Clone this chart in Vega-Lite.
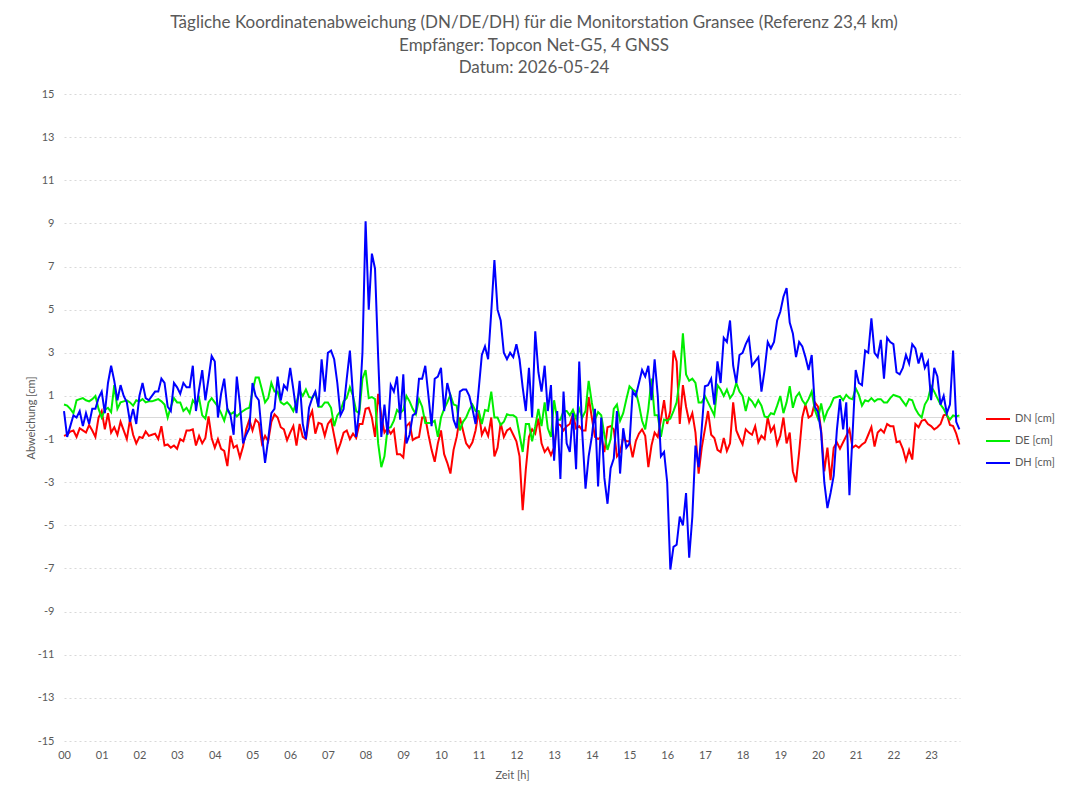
{
"$schema": "https://vega.github.io/schema/vega-lite/v6.json",
"width": 896, "height": 647,
"autosize": {"type": "none"},
"padding": {"left": 64, "top": 94, "right": 108, "bottom": 60},
"background": "white",
"config": {"view": {"stroke": null}, "font": "Lato"},
"title": {"text": ["Tägliche Koordinatenabweichung (DN/DE/DH) für die Monitorstation Gransee (Referenz 23,4 km)", "Empfänger: Topcon Net-G5, 4 GNSS", "Datum: 2026-05-24"], "anchor": "middle", "frame": "group", "dx": 22, "offset": 11, "fontSize": 17, "font": "Lato", "fontWeight": "normal", "color": "#595959", "lineHeight": 22.5},
"layer": [
{"data": {"values": [{}]}, "mark": {"type": "rule", "color": "#d9d9d9", "strokeWidth": 1}, "encoding": {"y": {"datum": 0, "type": "quantitative"}}},
{"data": {"values": [
{"m":0,"DN":-0.85,"DE":0.6,"DH":0.3},{"m":5,"DN":-0.8,"DE":0.55,"DH":-0.9},{"m":10,"DN":-0.65,"DE":0.4,"DH":-0.4},{"m":15,"DN":-0.6,"DE":0.2,"DH":0.1},{"m":20,"DN":-0.9,"DE":0.8,"DH":0.0},{"m":25,"DN":-0.5,"DE":0.85,"DH":0.3},{"m":30,"DN":-0.6,"DE":0.9,"DH":-0.4},{"m":35,"DN":-0.7,"DE":0.8,"DH":0.2},{"m":40,"DN":-0.35,"DE":0.75,"DH":-0.3},{"m":45,"DN":-0.6,"DE":0.85,"DH":0.4},
{"m":50,"DN":-0.9,"DE":1.0,"DH":0.4},{"m":55,"DN":0.0,"DE":0.4,"DH":0.9},{"m":60,"DN":0.3,"DE":0.0,"DH":1.2},{"m":65,"DN":-0.55,"DE":0.35,"DH":0.2},{"m":70,"DN":0.2,"DE":0.45,"DH":1.6},{"m":75,"DN":-0.7,"DE":0.25,"DH":2.4},{"m":80,"DN":-0.45,"DE":1.5,"DH":1.7},{"m":85,"DN":-0.8,"DE":0.4,"DH":0.8},{"m":90,"DN":-0.2,"DE":0.7,"DH":1.5},{"m":95,"DN":-0.6,"DE":0.75,"DH":1.0},
{"m":100,"DN":-1.0,"DE":0.8,"DH":0.7},{"m":105,"DN":-0.1,"DE":0.7,"DH":-0.2},{"m":110,"DN":-0.8,"DE":0.55,"DH":0.4},{"m":115,"DN":-1.2,"DE":0.8,"DH":-0.3},{"m":120,"DN":-0.9,"DE":0.75,"DH":1.0},{"m":125,"DN":-0.95,"DE":0.85,"DH":1.6},{"m":130,"DN":-0.65,"DE":0.7,"DH":0.9},{"m":135,"DN":-0.85,"DE":0.75,"DH":0.8},{"m":140,"DN":-0.8,"DE":0.75,"DH":1.0},{"m":145,"DN":-0.75,"DE":0.8,"DH":1.2},
{"m":150,"DN":-1.0,"DE":0.85,"DH":1.2},{"m":155,"DN":-0.4,"DE":0.75,"DH":1.8},{"m":160,"DN":-1.3,"DE":0.6,"DH":1.6},{"m":165,"DN":-1.25,"DE":0.0,"DH":0.5},{"m":170,"DN":-1.4,"DE":0.5,"DH":0.3},{"m":175,"DN":-1.3,"DE":0.9,"DH":1.6},{"m":180,"DN":-1.45,"DE":0.7,"DH":1.4},{"m":185,"DN":-1.0,"DE":0.7,"DH":1.1},{"m":190,"DN":-1.1,"DE":0.3,"DH":1.6},{"m":195,"DN":-0.6,"DE":0.45,"DH":1.4},
{"m":200,"DN":-0.6,"DE":0.2,"DH":1.4},{"m":205,"DN":-0.55,"DE":0.8,"DH":2.4},{"m":210,"DN":-1.3,"DE":0.6,"DH":0.3},{"m":215,"DN":-0.85,"DE":0.9,"DH":1.3},{"m":220,"DN":-1.2,"DE":0.1,"DH":2.2},{"m":225,"DN":-0.95,"DE":-0.05,"DH":0.8},{"m":230,"DN":0.05,"DE":0.7,"DH":1.8},{"m":235,"DN":-0.95,"DE":0.9,"DH":2.85},{"m":240,"DN":-1.4,"DE":0.7,"DH":2.6},{"m":245,"DN":-1.0,"DE":0.5,"DH":0.0},
{"m":250,"DN":-1.45,"DE":0.2,"DH":1.1},{"m":255,"DN":-1.55,"DE":-0.15,"DH":1.8},{"m":260,"DN":-2.25,"DE":0.4,"DH":0.4},{"m":265,"DN":-0.85,"DE":0.15,"DH":0.1},{"m":270,"DN":-1.4,"DE":0.25,"DH":-0.8},{"m":275,"DN":-1.3,"DE":0.05,"DH":1.9},{"m":280,"DN":-1.85,"DE":0.2,"DH":0.6},{"m":285,"DN":-1.35,"DE":0.3,"DH":-1.2},{"m":290,"DN":-0.55,"DE":0.4,"DH":-0.8},{"m":295,"DN":-0.1,"DE":0.45,"DH":-0.5},
{"m":300,"DN":-0.6,"DE":1.2,"DH":1.6},{"m":305,"DN":-0.1,"DE":1.85,"DH":1.0},{"m":310,"DN":-0.25,"DE":1.85,"DH":0.8},{"m":315,"DN":-1.2,"DE":1.3,"DH":-0.8},{"m":320,"DN":-0.85,"DE":0.7,"DH":-2.1},{"m":325,"DN":-1.1,"DE":0.9,"DH":-1.0},{"m":330,"DN":-0.2,"DE":1.6,"DH":0.2},{"m":335,"DN":0.15,"DE":1.2,"DH":0.4},{"m":340,"DN":0.0,"DE":1.2,"DH":1.9},{"m":345,"DN":-0.45,"DE":0.7,"DH":0.8},
{"m":350,"DN":-0.55,"DE":0.6,"DH":1.5},{"m":355,"DN":-1.05,"DE":0.7,"DH":1.3},{"m":360,"DN":-0.7,"DE":0.55,"DH":2.3},{"m":365,"DN":-0.4,"DE":0.3,"DH":1.3},{"m":370,"DN":-1.3,"DE":0.7,"DH":0.2},{"m":375,"DN":-0.3,"DE":1.25,"DH":1.7},{"m":380,"DN":-0.9,"DE":1.0,"DH":-0.3},{"m":385,"DN":-1.0,"DE":1.3,"DH":-1.0},{"m":390,"DN":-0.05,"DE":0.95,"DH":0.45},{"m":395,"DN":0.3,"DE":0.9,"DH":0.9},
{"m":400,"DN":-0.75,"DE":1.15,"DH":1.2},{"m":405,"DN":-0.25,"DE":0.5,"DH":0.5},{"m":410,"DN":-0.3,"DE":0.5,"DH":2.7},{"m":415,"DN":-0.85,"DE":0.7,"DH":1.2},{"m":420,"DN":-0.3,"DE":0.7,"DH":3.0},{"m":425,"DN":-0.1,"DE":0.45,"DH":3.1},{"m":430,"DN":-0.85,"DE":-0.4,"DH":2.7},{"m":435,"DN":-1.6,"DE":0.1,"DH":1.6},{"m":440,"DN":-1.2,"DE":0.3,"DH":0.1},{"m":445,"DN":-0.7,"DE":0.75,"DH":0.4},
{"m":450,"DN":-0.6,"DE":0.9,"DH":1.8},{"m":455,"DN":-1.0,"DE":1.4,"DH":3.1},{"m":460,"DN":-0.75,"DE":1.0,"DH":1.0},{"m":465,"DN":-0.95,"DE":0.3,"DH":-0.9},{"m":470,"DN":-0.3,"DE":0.2,"DH":0.4},{"m":475,"DN":-0.3,"DE":1.8,"DH":3.0},{"m":480,"DN":0.4,"DE":2.2,"DH":9.1},{"m":485,"DN":0.45,"DE":0.9,"DH":5.0},{"m":490,"DN":0.0,"DE":0.95,"DH":7.6},{"m":495,"DN":-0.9,"DE":0.85,"DH":6.9},
{"m":500,"DN":1.1,"DE":-1.2,"DH":2.8},{"m":505,"DN":0.1,"DE":-2.3,"DH":-0.9},{"m":510,"DN":-0.7,"DE":-1.8,"DH":0.6},{"m":515,"DN":-0.5,"DE":-0.5,"DH":-0.8},{"m":520,"DN":-0.75,"DE":-0.45,"DH":1.5},{"m":525,"DN":-0.55,"DE":-0.15,"DH":1.2},{"m":530,"DN":-1.7,"DE":0.35,"DH":1.9},{"m":535,"DN":-1.7,"DE":0.2,"DH":-0.1},{"m":540,"DN":-1.85,"DE":0.35,"DH":2.0},{"m":545,"DN":-0.4,"DE":1.0,"DH":-1.2},
{"m":550,"DN":-0.25,"DE":0.75,"DH":-0.8},{"m":555,"DN":-1.05,"DE":0.4,"DH":0.1},{"m":560,"DN":-0.95,"DE":0.15,"DH":0.2},{"m":565,"DN":-0.9,"DE":0.85,"DH":1.8},{"m":570,"DN":0.0,"DE":0.5,"DH":1.8},{"m":575,"DN":0.0,"DE":-0.25,"DH":2.4},{"m":580,"DN":-0.8,"DE":-0.25,"DH":1.0},{"m":585,"DN":-1.5,"DE":-0.25,"DH":-0.4},{"m":590,"DN":-2.05,"DE":-0.15,"DH":1.8},{"m":595,"DN":-1.2,"DE":-0.9,"DH":1.9},
{"m":600,"DN":-0.6,"DE":0.0,"DH":2.3},{"m":605,"DN":-1.7,"DE":0.4,"DH":0.3},{"m":610,"DN":-2.1,"DE":0.7,"DH":1.6},{"m":615,"DN":-2.6,"DE":1.05,"DH":1.0},{"m":620,"DN":-1.5,"DE":0.6,"DH":-0.1},{"m":625,"DN":-0.9,"DE":0.55,"DH":-0.5},{"m":630,"DN":0.0,"DE":-0.6,"DH":1.2},{"m":635,"DN":-0.6,"DE":-0.2,"DH":1.3},{"m":640,"DN":-1.2,"DE":0.0,"DH":1.3},{"m":645,"DN":-1.4,"DE":0.35,"DH":1.0},
{"m":650,"DN":-1.15,"DE":0.6,"DH":0.4},{"m":655,"DN":-0.6,"DE":0.3,"DH":-0.3},{"m":660,"DN":0.3,"DE":0.3,"DH":1.3},{"m":665,"DN":-0.8,"DE":-0.3,"DH":2.9},{"m":670,"DN":-0.5,"DE":0.35,"DH":3.3},{"m":675,"DN":-0.85,"DE":0.3,"DH":2.7},{"m":680,"DN":0.0,"DE":1.2,"DH":4.9},{"m":685,"DN":-1.8,"DE":0.0,"DH":7.3},{"m":690,"DN":-1.4,"DE":0.0,"DH":5.0},{"m":695,"DN":-0.25,"DE":-0.35,"DH":4.5},
{"m":700,"DN":-0.9,"DE":-0.2,"DH":3.0},{"m":705,"DN":-0.6,"DE":0.15,"DH":2.7},{"m":710,"DN":-0.5,"DE":0.1,"DH":3.0},{"m":715,"DN":-0.8,"DE":0.1,"DH":2.8},{"m":720,"DN":-1.1,"DE":0.0,"DH":3.4},{"m":725,"DN":-1.8,"DE":-0.8,"DH":2.7},{"m":730,"DN":-4.3,"DE":-1.6,"DH":1.4},{"m":735,"DN":-2.4,"DE":-0.3,"DH":0.3},{"m":740,"DN":-0.9,"DE":-0.3,"DH":2.3},{"m":745,"DN":-0.55,"DE":-1.1,"DH":0.0},
{"m":750,"DN":-0.75,"DE":-0.4,"DH":4.0},{"m":755,"DN":-0.05,"DE":0.4,"DH":2.1},{"m":760,"DN":-1.2,"DE":-0.4,"DH":1.2},{"m":765,"DN":-1.6,"DE":0.7,"DH":2.4},{"m":770,"DN":-1.4,"DE":-0.5,"DH":0.3},{"m":775,"DN":-1.75,"DE":-0.9,"DH":1.5},{"m":780,"DN":-1.4,"DE":0.8,"DH":-2.0},{"m":785,"DN":-0.3,"DE":-0.1,"DH":0.3},{"m":790,"DN":-0.35,"DE":-0.1,"DH":-2.85},{"m":795,"DN":-0.6,"DE":0.3,"DH":1.2},
{"m":800,"DN":-0.4,"DE":0.3,"DH":-1.2},{"m":805,"DN":-0.3,"DE":0.1,"DH":-1.6},{"m":810,"DN":0.15,"DE":0.35,"DH":0.2},{"m":815,"DN":-0.5,"DE":-0.05,"DH":-2.4},{"m":820,"DN":-0.4,"DE":0.4,"DH":2.6},{"m":825,"DN":-0.6,"DE":0.0,"DH":-0.8},{"m":830,"DN":-0.6,"DE":0.3,"DH":-3.3},{"m":835,"DN":0.95,"DE":1.7,"DH":-1.8},{"m":840,"DN":0.0,"DE":0.7,"DH":-0.9},{"m":845,"DN":-0.9,"DE":-0.1,"DH":0.4},
{"m":850,"DN":-1.0,"DE":0.25,"DH":-3.2},{"m":855,"DN":-0.9,"DE":0.1,"DH":0.0},{"m":860,"DN":-1.6,"DE":-0.8,"DH":-2.8},{"m":865,"DN":-0.45,"DE":-1.5,"DH":-4.0},{"m":870,"DN":-0.4,"DE":-1.0,"DH":-2.35},{"m":875,"DN":-0.55,"DE":0.4,"DH":-1.9},{"m":880,"DN":-1.8,"DE":0.6,"DH":0.3},{"m":885,"DN":-1.6,"DE":-0.15,"DH":-2.6},{"m":890,"DN":-0.95,"DE":0.2,"DH":-0.5},{"m":895,"DN":-1.1,"DE":0.85,"DH":-1.4},
{"m":900,"DN":-1.1,"DE":1.45,"DH":-1.2},{"m":905,"DN":-1.85,"DE":1.3,"DH":1.2},{"m":910,"DN":-1.1,"DE":1.2,"DH":1.0},{"m":915,"DN":-0.75,"DE":0.6,"DH":1.6},{"m":920,"DN":-0.55,"DE":-0.15,"DH":2.2},{"m":925,"DN":-0.85,"DE":-0.55,"DH":1.9},{"m":930,"DN":-2.3,"DE":0.4,"DH":2.4},{"m":935,"DN":-1.3,"DE":1.8,"DH":0.8},{"m":940,"DN":-0.7,"DE":0.1,"DH":2.7},{"m":945,"DN":-0.9,"DE":0.1,"DH":1.0},
{"m":950,"DN":-0.1,"DE":-0.9,"DH":-1.8},{"m":955,"DN":0.8,"DE":-0.1,"DH":-1.6},{"m":960,"DN":-0.3,"DE":-0.15,"DH":-3.0},{"m":965,"DN":0.3,"DE":-0.05,"DH":-7.05},{"m":970,"DN":3.1,"DE":0.3,"DH":-6.0},{"m":975,"DN":2.6,"DE":0.7,"DH":-5.9},{"m":980,"DN":-0.3,"DE":1.8,"DH":-4.6},{"m":985,"DN":1.5,"DE":3.9,"DH":-5.0},{"m":990,"DN":0.5,"DE":2.0,"DH":-3.5},{"m":995,"DN":-0.2,"DE":1.7,"DH":-6.5},
{"m":1000,"DN":0.2,"DE":1.8,"DH":-4.6},{"m":1005,"DN":-0.7,"DE":1.6,"DH":-1.3},{"m":1010,"DN":-2.6,"DE":0.7,"DH":-2.3},{"m":1015,"DN":-1.4,"DE":0.7,"DH":-0.5},{"m":1020,"DN":-0.55,"DE":1.0,"DH":1.45},{"m":1025,"DN":0.3,"DE":0.7,"DH":1.5},{"m":1030,"DN":-0.8,"DE":0.4,"DH":1.8},{"m":1035,"DN":-0.95,"DE":0.1,"DH":0.6},{"m":1040,"DN":-1.5,"DE":1.5,"DH":2.6},{"m":1045,"DN":-1.6,"DE":1.3,"DH":1.6},
{"m":1050,"DN":-0.95,"DE":1.0,"DH":3.7},{"m":1055,"DN":-1.55,"DE":1.3,"DH":3.5},{"m":1060,"DN":-1.2,"DE":0.9,"DH":4.5},{"m":1065,"DN":0.7,"DE":1.1,"DH":2.4},{"m":1070,"DN":-0.6,"DE":1.6,"DH":1.6},{"m":1075,"DN":-0.95,"DE":1.2,"DH":2.9},{"m":1080,"DN":-1.25,"DE":1.0,"DH":3.0},{"m":1085,"DN":-0.55,"DE":0.3,"DH":3.4},{"m":1090,"DN":-0.7,"DE":0.9,"DH":3.7},{"m":1095,"DN":-0.8,"DE":0.75,"DH":2.4},
{"m":1100,"DN":-0.4,"DE":0.5,"DH":2.6},{"m":1105,"DN":-1.15,"DE":0.8,"DH":2.8},{"m":1110,"DN":-0.85,"DE":0.55,"DH":1.2},{"m":1115,"DN":-1.0,"DE":0.05,"DH":2.2},{"m":1120,"DN":0.0,"DE":0.0,"DH":3.5},{"m":1125,"DN":-0.65,"DE":0.2,"DH":3.2},{"m":1130,"DN":-0.4,"DE":0.15,"DH":3.5},{"m":1135,"DN":-1.25,"DE":0.55,"DH":4.5},{"m":1140,"DN":-0.85,"DE":1.0,"DH":4.9},{"m":1145,"DN":0.0,"DE":0.2,"DH":5.6},
{"m":1150,"DN":-1.2,"DE":0.7,"DH":6.0},{"m":1155,"DN":-0.7,"DE":1.45,"DH":4.4},{"m":1160,"DN":-2.5,"DE":0.45,"DH":3.9},{"m":1165,"DN":-3.0,"DE":0.95,"DH":2.8},{"m":1170,"DN":-1.6,"DE":1.15,"DH":3.5},{"m":1175,"DN":0.0,"DE":0.8,"DH":3.3},{"m":1180,"DN":0.6,"DE":0.6,"DH":2.8},{"m":1185,"DN":0.0,"DE":0.85,"DH":2.2},{"m":1190,"DN":0.1,"DE":1.2,"DH":2.9},{"m":1195,"DN":0.7,"DE":0.35,"DH":0.5},
{"m":1200,"DN":0.5,"DE":-0.05,"DH":0.25},{"m":1205,"DN":-0.6,"DE":0.65,"DH":-0.7},{"m":1210,"DN":-2.5,"DE":-0.1,"DH":-3.0},{"m":1215,"DN":-1.4,"DE":0.3,"DH":-4.2},{"m":1220,"DN":-2.9,"DE":0.55,"DH":-3.5},{"m":1225,"DN":-1.4,"DE":0.9,"DH":-2.7},{"m":1230,"DN":-1.15,"DE":0.95,"DH":-0.6},{"m":1235,"DN":-1.45,"DE":1.0,"DH":0.85},{"m":1240,"DN":-1.15,"DE":0.8,"DH":-0.55},{"m":1245,"DN":-0.85,"DE":1.05,"DH":0.7},
{"m":1250,"DN":-0.55,"DE":0.9,"DH":-3.6},{"m":1255,"DN":-1.4,"DE":0.85,"DH":-0.8},{"m":1260,"DN":-1.3,"DE":1.35,"DH":2.2},{"m":1265,"DN":-1.4,"DE":1.05,"DH":1.6},{"m":1270,"DN":-1.25,"DE":0.55,"DH":1.5},{"m":1275,"DN":-1.15,"DE":0.8,"DH":3.1},{"m":1280,"DN":-0.8,"DE":0.75,"DH":3.0},{"m":1285,"DN":-0.45,"DE":0.9,"DH":4.6},{"m":1290,"DN":-1.35,"DE":0.75,"DH":3.0},{"m":1295,"DN":-0.7,"DE":0.85,"DH":2.8},
{"m":1300,"DN":-0.55,"DE":0.85,"DH":3.6},{"m":1305,"DN":-0.7,"DE":0.7,"DH":1.8},{"m":1310,"DN":-0.3,"DE":0.7,"DH":3.7},{"m":1315,"DN":-0.4,"DE":0.9,"DH":3.5},{"m":1320,"DN":-0.4,"DE":1.05,"DH":3.4},{"m":1325,"DN":-1.15,"DE":1.0,"DH":2.1},{"m":1330,"DN":-1.1,"DE":0.95,"DH":2.0},{"m":1335,"DN":-1.45,"DE":0.75,"DH":2.3},{"m":1340,"DN":-2.0,"DE":0.55,"DH":2.9},{"m":1345,"DN":-1.5,"DE":0.85,"DH":2.5},
{"m":1350,"DN":-1.95,"DE":0.8,"DH":3.4},{"m":1355,"DN":-0.3,"DE":0.4,"DH":3.2},{"m":1360,"DN":-0.45,"DE":0.15,"DH":2.5},{"m":1365,"DN":-0.15,"DE":0.0,"DH":3.0},{"m":1370,"DN":-0.1,"DE":0.6,"DH":2.3},{"m":1375,"DN":-0.3,"DE":0.85,"DH":2.6},{"m":1380,"DN":-0.4,"DE":1.45,"DH":0.8},{"m":1385,"DN":-0.55,"DE":1.2,"DH":2.3},{"m":1390,"DN":-0.45,"DE":0.9,"DH":1.9},{"m":1395,"DN":-0.3,"DE":0.6,"DH":0.6},
{"m":1400,"DN":0.1,"DE":0.4,"DH":1.0},{"m":1405,"DN":0.15,"DE":0.1,"DH":0.2},{"m":1410,"DN":-0.35,"DE":-0.1,"DH":0.6},{"m":1415,"DN":-0.4,"DE":0.1,"DH":3.1},{"m":1420,"DN":-0.75,"DE":0.05,"DH":-0.2},{"m":1425,"DN":-1.25,"DE":0.1,"DH":-0.55}
]},
"transform": [{"fold": ["DN", "DE", "DH"], "as": ["s", "v"]}],
"mark": {"type": "line", "strokeWidth": 2, "interpolate": "linear"},
"encoding": {
"x": {"field": "m", "type": "quantitative", "scale": {"domain": [0, 1426], "nice": false, "zero": false},
 "axis": {"values": [0,60,120,180,240,300,360,420,480,540,600,660,720,780,840,900,960,1020,1080,1140,1200,1260,1320,1380], "labelExpr": "format(datum.value/60, '02d')", "labelFlush": false, "labelOverlap": false, "grid": false, "domain": false, "ticks": false, "labelPadding": 8, "labelFontSize": 11, "labelColor": "#595959", "labelFont": "Lato", "title": "Zeit [h]", "titleFont": "Lato", "titleFontSize": 11, "titleFontWeight": "normal", "titleColor": "#595959", "titlePadding": 9}},
"y": {"field": "v", "type": "quantitative", "scale": {"domain": [-15, 15], "nice": false},
 "axis": {"values": [-15,-13,-11,-9,-7,-5,-3,-1,1,3,5,7,9,11,13,15], "labelExpr": "'' + datum.value", "labelFlush": false, "labelOverlap": false, "grid": true, "gridDash": [2, 3], "gridColor": "#d9d9d9", "domain": false, "ticks": false, "labelPadding": 10, "labelFontSize": 11, "labelColor": "#595959", "labelFont": "Lato", "title": "Abweichung [cm]", "titleFont": "Lato", "titleFontSize": 11, "titleFontWeight": "normal", "titleColor": "#595959", "titlePadding": 1}},
"color": {"field": "s", "type": "nominal", "sort": ["DN", "DE", "DH"], "scale": {"domain": ["DN", "DE", "DH"], "range": ["#ff0000", "#00ee00", "#0000ff"]},
 "legend": {"title": null, "orient": "none", "legendX": 921, "legendY": 312, "symbolType": "stroke", "symbolSize": 576, "symbolStrokeWidth": 2, "labelExpr": "datum.label + ' [cm]'", "labelFontSize": 11, "labelColor": "#595959", "labelFont": "Lato", "rowPadding": 4, "labelOffset": 4}}
}}
]
}
